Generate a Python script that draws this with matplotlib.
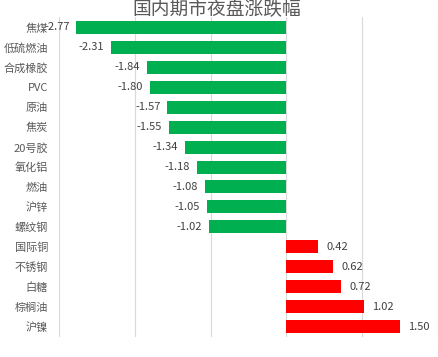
import matplotlib
matplotlib.use("Agg")
import matplotlib.pyplot as plt

plt.rcParams['font.family'] = ['Noto Sans CJK SC', 'DejaVu Sans']

categories = ["焦煤", "低硫燃油", "合成橡胶", "PVC", "原油", "焦炭", "20号胶", "氧化铝",
              "燃油", "沪锌", "螺纹钢", "国际铜", "不锈钢", "白糖", "棕榈油", "沪镍"]
values = [-2.77, -2.31, -1.84, -1.80, -1.57, -1.55, -1.34, -1.18,
          -1.08, -1.05, -1.02, 0.42, 0.62, 0.72, 1.02, 1.50]
title = "国内期市夜盘涨跌幅"

fig = plt.figure(figsize=(4.38, 3.57), dpi=100)
ax = fig.add_axes([0.1347, 0.0574, 0.8653, 0.8936])

n = len(categories)
ys = list(range(n))
colors = ["#00B050" if v < 0 else "#FF0000" for v in values]
ax.barh(ys, values, height=0.65, color=colors, zorder=2)

ax.set_xlim(-3, 2)
ax.set_ylim(n - 0.5, -0.5)
ax.set_xticks([-3, -2, -1, 0, 1, 2])
ax.xaxis.grid(True, color="#d9d9d9", linewidth=0.8, zorder=0)
ax.set_axisbelow(True)
ax.tick_params(axis='x', length=0, labelbottom=False)
ax.tick_params(axis='y', length=0, pad=8)
ax.set_yticks(ys)
ax.set_yticklabels(categories, fontsize=8, color="#595959")
for lab in ax.get_yticklabels():
    lab.set_bbox(dict(facecolor="white", edgecolor="none", pad=0.3))
    lab.set_zorder(5)
for s in ax.spines.values():
    s.set_visible(False)

for y, v in zip(ys, values):
    if v < 0:
        ax.annotate(f"{v:.2f}", (v, y), xytext=(-5, 0), textcoords="offset points",
                    ha="right", va="center", fontsize=8, color="#404040",
                    annotation_clip=False, zorder=1)
    else:
        ax.annotate(f"{v:.2f}", (v, y), xytext=(6, 0), textcoords="offset points",
                    ha="left", va="center", fontsize=8, color="#404040",
                    annotation_clip=False, zorder=1)

fig.text(0.495, 0.972, title, ha="center", va="center", fontsize=13.5, color="#595959")

fig.savefig("out.png", dpi=100)
